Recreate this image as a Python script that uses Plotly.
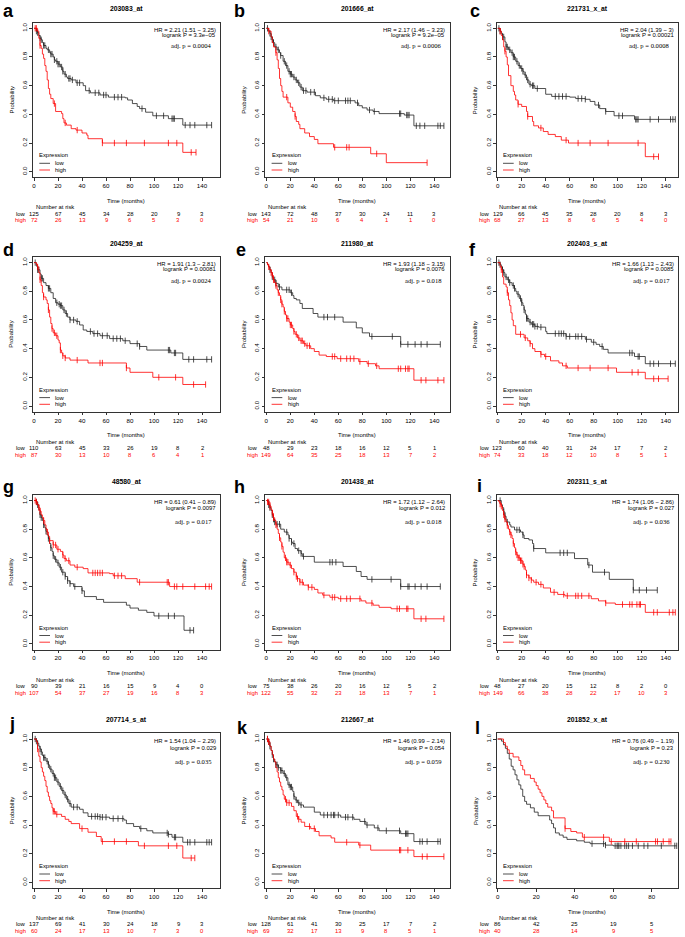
import numpy as np
import plotly.graph_objects as go

# ------------------------------------------------------------------ data
MONTHS = [0, 20, 40, 60, 80, 100, 120, 140]
MONTHS_L = [0, 20, 40, 60, 80]
Y_TICKS = [0.0, 0.2, 0.4, 0.6, 0.8, 1.0]

# panel a  203083_at
a_low_t = [0, 2, 3, 4, 5, 6, 7, 8, 10, 11, 13, 14, 16, 17, 18, 20, 22, 24, 25, 27, 28, 31, 35, 41, 43, 47, 55, 62, 76, 78, 82, 86, 88, 93, 99, 112, 124, 148]
a_low_s = [1, .98, .97, .95, .93, .92, .90, .88, .86, .85, .83, .82, .80, .78, .77, .75, .73, .70, .68, .66, .65, .64, .62, .60, .565, .55, .535, .52, .515, .50, .475, .455, .44, .415, .39, .37, .325, .325]
a_low_c = [2, 3, 5, 6, 8, 9, 12, 14, 15, 17, 19, 20, 21, 23, 24, 26, 29, 30, 32, 36, 38, 46, 51, 54, 58, 60, 67, 70, 73, 90, 102, 108, 115, 116, 117, 126, 130, 134, 144, 148]
a_high_t = [0, 3, 4, 5, 6, 7, 8, 9, 10, 11, 12, 13, 14, 16, 18, 23, 24, 25, 27, 31, 35, 40, 44, 45, 57, 124, 135]
a_high_s = [1, .98, .93, .88, .86, .82, .79, .74, .70, .64, .58, .54, .51, .475, .42, .405, .37, .34, .325, .30, .29, .27, .255, .23, .20, .135, .135]
a_high_c = [1, 2, 5, 17, 26, 36, 57, 67, 77, 92, 112, 119, 131, 135]
a_nar_low = [125, 67, 45, 34, 28, 20, 9, 3]
a_nar_high = [72, 26, 13, 9, 6, 5, 3, 0]

# panel b  201666_at
b_low_t = [0, 2, 3, 4, 5, 6, 7, 9, 11, 12, 14, 16, 18, 20, 22, 24, 26, 28, 30, 34, 41, 45, 50, 56, 74, 77, 80, 84, 89, 94, 115, 123, 148]
b_low_s = [1, .98, .965, .94, .92, .90, .87, .85, .83, .81, .77, .74, .70, .68, .66, .64, .62, .59, .565, .555, .53, .515, .505, .495, .48, .46, .445, .43, .42, .405, .395, .32, .32]
b_low_c = [1, 3, 4, 5, 6, 8, 10, 12, 15, 17, 19, 20, 21, 23, 25, 27, 29, 31, 33, 37, 40, 48, 52, 55, 57, 60, 66, 68, 70, 76, 86, 90, 111, 112, 117, 118, 119, 125, 128, 132, 143, 145, 148]
b_high_t = [0, 2, 4, 5, 6, 8, 9, 10, 11, 12, 13, 14, 18, 20, 22, 24, 25, 27, 28, 32, 36, 40, 43, 56, 87, 100, 134]
b_high_s = [1, .98, .94, .90, .87, .83, .78, .72, .65, .60, .56, .52, .48, .45, .42, .385, .35, .33, .30, .27, .245, .225, .195, .17, .125, .063, .063]
b_high_c = [2, 8, 17, 24, 57, 67, 69, 92, 134]
b_nar_low = [143, 72, 48, 37, 30, 24, 11, 3]
b_nar_high = [54, 21, 10, 6, 4, 1, 1, 0]

# panel c  221731_x_at
c_low_t = [0, 2, 3, 4, 6, 7, 9, 11, 13, 15, 17, 19, 21, 22, 24, 26, 28, 31, 40, 45, 60, 65, 73, 77, 81, 85, 90, 97, 114, 148]
c_low_s = [1, .98, .965, .94, .905, .87, .85, .83, .80, .77, .74, .72, .70, .675, .64, .61, .60, .58, .54, .525, .52, .51, .505, .49, .465, .44, .42, .39, .365, .365]
c_low_c = [1, 2, 4, 5, 7, 8, 10, 12, 13, 14, 16, 18, 20, 21, 23, 25, 27, 29, 30, 33, 48, 51, 54, 57, 67, 70, 73, 84, 90, 101, 104, 115, 116, 117, 127, 134, 144, 146, 148]
c_high_t = [0, 2, 3, 4, 5, 6, 7, 8, 9, 11, 13, 14, 15, 17, 20, 24, 25, 29, 30, 34, 38, 42, 48, 53, 59, 123, 134]
c_high_s = [1, .98, .95, .92, .87, .84, .80, .745, .67, .60, .56, .535, .50, .47, .455, .42, .385, .35, .32, .305, .28, .26, .245, .22, .20, .105, .105]
c_high_c = [2, 6, 17, 25, 36, 57, 67, 77, 92, 117, 130, 134]
c_nar_low = [129, 66, 45, 35, 28, 20, 8, 3]
c_nar_high = [68, 27, 13, 8, 6, 5, 4, 0]

# panel d  204259_at
d_low_t = [0, 2, 3, 5, 6, 8, 10, 12, 14, 16, 18, 20, 22, 24, 26, 28, 30, 35, 38, 41, 44, 49, 55, 63, 74, 80, 88, 94, 114, 124, 148]
d_low_s = [1, .975, .95, .92, .89, .86, .84, .82, .79, .75, .72, .71, .70, .67, .645, .62, .60, .59, .565, .53, .52, .505, .49, .47, .455, .435, .415, .39, .37, .325, .325]
d_low_c = [1, 3, 4, 6, 7, 12, 13, 19, 21, 22, 23, 25, 27, 30, 33, 36, 47, 50, 53, 57, 61, 66, 69, 72, 76, 86, 88, 112, 113, 117, 118, 129, 133, 144, 148]
d_high_t = [0, 2, 3, 4, 5, 6, 7, 8, 10, 11, 12, 13, 14, 15, 16, 18, 20, 21, 22, 23, 24, 26, 30, 45, 77, 80, 99, 124, 143]
d_high_s = [1, .985, .97, .93, .88, .84, .79, .76, .74, .715, .67, .62, .575, .54, .51, .49, .46, .44, .39, .37, .35, .335, .32, .30, .265, .235, .20, .15, .15]
d_high_c = [3, 5, 8, 12, 15, 17, 19, 22, 24, 26, 36, 55, 57, 77, 104, 118, 133, 143]
d_nar_low = [110, 63, 45, 33, 26, 19, 8, 2]
d_nar_high = [87, 30, 13, 10, 8, 6, 4, 1]

# panel e  211980_at
e_low_t = [0, 1, 2, 3, 4, 5, 6, 8, 10, 13, 20, 22, 23, 25, 28, 30, 39, 43, 64, 75, 80, 86, 112, 145]
e_low_s = [1, .985, .97, .95, .93, .90, .88, .855, .83, .81, .79, .77, .75, .74, .715, .68, .645, .62, .585, .545, .51, .485, .43, .43]
e_low_c = [3, 5, 7, 8, 11, 17, 19, 21, 48, 51, 57, 88, 105, 112, 118, 124, 129, 134, 145]
e_high_t = [0, 1, 2, 3, 4, 5, 6, 7, 8, 9, 10, 11, 12, 13, 14, 15, 16, 17, 19, 20, 22, 23, 24, 26, 28, 31, 33, 37, 40, 44, 50, 59, 77, 84, 91, 94, 123, 148]
e_high_s = [1, .985, .97, .95, .93, .91, .88, .86, .84, .81, .79, .77, .74, .71, .69, .66, .635, .61, .585, .565, .54, .52, .50, .475, .455, .435, .42, .40, .38, .355, .345, .33, .31, .295, .28, .26, .18, .18]
e_high_c = [2, 4, 5, 6, 8, 10, 12, 13, 15, 17, 18, 20, 21, 23, 25, 27, 29, 30, 32, 34, 36, 55, 57, 62, 67, 70, 73, 78, 85, 92, 110, 112, 116, 118, 119, 129, 133, 143, 148]
e_nar_low = [48, 29, 23, 18, 16, 12, 5, 1]
e_nar_high = [149, 64, 35, 25, 18, 13, 7, 2]

# panel f  202403_s_at
f_low_t = [0, 2, 3, 4, 5, 6, 8, 10, 12, 14, 15, 16, 18, 20, 21, 22, 23, 24, 26, 28, 31, 34, 40, 41, 57, 73, 78, 82, 85, 88, 92, 114, 123, 148]
f_low_s = [1, .985, .97, .95, .93, .90, .88, .86, .84, .82, .80, .78, .75, .72, .70, .67, .64, .61, .585, .57, .555, .55, .52, .505, .485, .465, .445, .43, .415, .395, .37, .345, .295, .295]
f_low_c = [1, 2, 4, 5, 7, 9, 10, 13, 14, 17, 19, 20, 22, 24, 25, 27, 29, 30, 31, 33, 36, 48, 51, 53, 55, 57, 60, 65, 67, 70, 74, 80, 87, 110, 112, 117, 118, 127, 130, 134, 144, 148]
f_high_t = [0, 2, 3, 4, 5, 7, 8, 9, 10, 11, 12, 13, 15, 22, 25, 27, 29, 31, 36, 39, 44, 51, 54, 58, 99, 123, 142]
f_high_s = [1, .975, .95, .90, .85, .83, .79, .74, .70, .65, .60, .56, .50, .475, .455, .435, .40, .38, .36, .345, .315, .30, .28, .265, .235, .19, .19]
f_high_c = [3, 8, 19, 23, 27, 36, 40, 57, 67, 77, 92, 112, 117, 130, 134, 142]
f_nar_low = [123, 60, 40, 31, 24, 17, 7, 2]
f_nar_high = [74, 33, 18, 12, 10, 8, 5, 1]

# panel g  48580_at
g_low_t = [0, 2, 3, 4, 5, 6, 7, 8, 9, 10, 11, 12, 13, 14, 15, 16, 17, 19, 21, 23, 26, 28, 30, 33, 40, 42, 52, 58, 77, 80, 87, 94, 100, 125, 133]
g_low_s = [1, .99, .97, .935, .90, .88, .86, .83, .81, .785, .76, .735, .70, .67, .645, .615, .59, .565, .535, .50, .47, .44, .42, .40, .37, .33, .31, .29, .27, .25, .235, .22, .195, .095, .095]
g_low_c = [2, 3, 5, 6, 8, 10, 12, 14, 16, 18, 20, 22, 24, 26, 28, 30, 34, 40, 104, 112, 117, 130, 133]
g_high_t = [0, 2, 3, 4, 5, 6, 7, 8, 9, 10, 11, 12, 13, 16, 19, 22, 24, 25, 27, 30, 34, 41, 45, 63, 66, 76, 86, 113, 148]
g_high_s = [1, .99, .97, .95, .925, .90, .88, .86, .83, .80, .78, .75, .72, .69, .66, .645, .62, .595, .58, .55, .535, .525, .495, .49, .475, .455, .43, .40, .40]
g_high_c = [1, 2, 4, 5, 8, 11, 13, 16, 18, 20, 24, 26, 29, 36, 49, 51, 53, 55, 57, 67, 70, 73, 88, 111, 112, 117, 119, 124, 134, 143, 146, 148]
g_nar_low = [90, 39, 21, 16, 15, 9, 4, 0]
g_nar_high = [107, 54, 37, 27, 19, 16, 8, 3]

# panel h  201438_at
h_low_t = [0, 2, 3, 4, 5, 6, 7, 8, 12, 15, 18, 19, 21, 22, 24, 26, 29, 30, 40, 64, 75, 79, 84, 112, 145]
h_low_s = [1, .97, .95, .93, .90, .87, .85, .835, .80, .78, .76, .735, .71, .70, .665, .65, .63, .61, .57, .54, .505, .47, .45, .40, .40]
h_low_c = [2, 3, 5, 6, 7, 9, 11, 17, 19, 21, 23, 27, 29, 31, 53, 55, 58, 88, 104, 112, 118, 119, 124, 129, 134, 145]
h_high_t = [0, 1, 3, 4, 5, 6, 7, 8, 9, 10, 11, 12, 13, 14, 15, 17, 19, 21, 23, 25, 26, 28, 31, 35, 40, 43, 47, 53, 60, 79, 83, 89, 94, 104, 123, 148]
h_high_s = [1, .99, .96, .935, .91, .88, .86, .83, .80, .77, .74, .71, .68, .64, .60, .57, .55, .525, .50, .47, .455, .43, .41, .395, .38, .355, .34, .325, .315, .30, .285, .27, .255, .245, .175, .175]
h_high_c = [1, 2, 3, 5, 6, 8, 11, 13, 16, 17, 18, 20, 23, 25, 26, 28, 30, 35, 38, 48, 55, 57, 62, 67, 70, 78, 88, 109, 111, 117, 118, 129, 133, 148]
h_nar_low = [75, 38, 26, 20, 16, 12, 5, 2]
h_nar_high = [122, 55, 32, 23, 18, 13, 7, 1]

# panel i  202311_s_at
i_low_t = [0, 3, 4, 5, 6, 7, 10, 11, 14, 19, 21, 22, 26, 29, 30, 40, 64, 75, 79, 93, 113, 133]
i_low_s = [1, .97, .95, .92, .89, .85, .83, .815, .795, .78, .76, .735, .725, .70, .665, .635, .595, .55, .50, .45, .375, .375]
i_low_c = [2, 5, 6, 8, 16, 18, 21, 30, 52, 55, 58, 76, 89, 113, 118, 124, 133]
i_high_t = [0, 1, 2, 3, 4, 5, 6, 7, 8, 9, 10, 11, 12, 13, 14, 15, 16, 17, 19, 21, 22, 23, 24, 26, 28, 30, 34, 38, 44, 50, 56, 78, 84, 90, 98, 123, 148]
i_high_s = [1, .99, .975, .96, .93, .90, .87, .85, .825, .80, .78, .76, .735, .70, .67, .64, .62, .60, .58, .555, .54, .515, .48, .46, .445, .43, .415, .39, .36, .345, .335, .315, .30, .285, .275, .22, .22]
i_high_c = [2, 3, 5, 6, 8, 10, 11, 13, 15, 16, 17, 18, 19, 20, 21, 22, 24, 26, 28, 32, 36, 47, 55, 58, 65, 67, 70, 76, 90, 104, 110, 112, 116, 118, 119, 130, 133, 143, 146, 148]
i_nar_low = [48, 27, 20, 15, 12, 8, 2, 0]
i_nar_high = [149, 66, 38, 28, 22, 17, 10, 3]

# panel j  207714_s_at
j_low_t = [0, 2, 3, 4, 5, 6, 7, 8, 10, 12, 13, 15, 17, 19, 21, 23, 25, 27, 29, 31, 38, 41, 45, 55, 63, 75, 77, 83, 88, 94, 99, 112, 115, 124, 148]
j_low_s = [1, .985, .97, .95, .93, .91, .885, .87, .845, .82, .79, .76, .73, .70, .67, .64, .61, .58, .55, .525, .51, .485, .46, .455, .445, .435, .41, .39, .375, .36, .345, .335, .315, .28, .28]
j_low_c = [1, 2, 3, 5, 6, 8, 9, 11, 12, 14, 16, 17, 18, 20, 22, 24, 26, 28, 30, 33, 36, 48, 51, 53, 55, 57, 60, 66, 70, 74, 89, 111, 112, 117, 118, 128, 130, 134, 144, 146, 148]
j_high_t = [0, 2, 3, 4, 5, 6, 7, 8, 9, 10, 11, 12, 13, 14, 15, 16, 18, 23, 26, 29, 31, 38, 45, 52, 56, 87, 124, 134]
j_high_s = [1, .98, .93, .88, .84, .80, .77, .74, .71, .67, .63, .60, .57, .55, .52, .495, .475, .46, .44, .425, .41, .375, .35, .32, .285, .255, .17, .17]
j_high_c = [3, 16, 17, 19, 40, 57, 67, 77, 92, 112, 119, 131, 134]
j_nar_low = [137, 69, 41, 30, 24, 18, 9, 3]
j_nar_high = [60, 24, 17, 13, 10, 7, 3, 0]

# panel k  212667_at
k_low_t = [0, 2, 3, 4, 5, 6, 7, 8, 10, 12, 14, 16, 18, 20, 22, 23, 24, 26, 28, 31, 40, 45, 62, 73, 78, 83, 90, 94, 112, 123, 145]
k_low_s = [1, .98, .95, .92, .89, .86, .84, .82, .80, .78, .76, .73, .68, .665, .635, .60, .575, .555, .54, .525, .49, .47, .455, .44, .425, .40, .38, .36, .34, .285, .285]
k_low_c = [1, 2, 3, 5, 6, 8, 9, 10, 12, 13, 15, 17, 19, 20, 21, 23, 25, 27, 29, 48, 51, 54, 56, 57, 60, 66, 68, 72, 82, 84, 93, 100, 111, 116, 117, 118, 128, 130, 134, 143, 145]
k_high_t = [0, 2, 3, 4, 5, 6, 7, 8, 9, 10, 11, 12, 13, 14, 15, 17, 21, 23, 25, 27, 29, 32, 37, 41, 44, 54, 57, 77, 87, 123, 148]
k_high_s = [1, .98, .95, .92, .89, .86, .84, .80, .77, .73, .70, .67, .645, .61, .58, .555, .53, .50, .46, .44, .42, .39, .375, .355, .325, .31, .28, .26, .225, .18, .18]
k_high_c = [1, 2, 16, 17, 19, 26, 27, 36, 40, 67, 78, 111, 112, 118, 130, 134, 148]
k_nar_low = [128, 61, 41, 30, 25, 17, 7, 2]
k_nar_high = [69, 32, 17, 13, 9, 8, 5, 1]

# panel l  201852_x_at
l_low_t = [0, 2, 3, 4, 5, 6, 7, 8, 9, 10, 11, 12, 13, 14, 15, 17, 19, 21, 27, 28, 29, 30, 32, 34, 36, 41, 45, 48, 56, 60, 93]
l_low_s = [1, .985, .96, .935, .90, .86, .81, .785, .75, .715, .68, .65, .60, .565, .545, .52, .49, .465, .435, .41, .38, .345, .33, .315, .30, .29, .28, .27, .26, .255, .255]
l_low_c = [49, 55, 56, 61, 62, 62.5, 63, 64, 66, 67, 68, 70, 73, 76, 78, 85, 92, 93]
l_high_t = [0, 3, 4, 5, 6, 8, 11, 12, 13, 14, 17, 19, 20, 21, 22, 23, 24, 25, 26, 28, 29, 35, 38, 41, 44, 58, 90]
l_high_s = [1, .975, .95, .925, .90, .875, .85, .815, .785, .75, .725, .70, .675, .65, .625, .60, .575, .55, .525, .50, .45, .375, .355, .345, .315, .285, .285]
l_high_c = [35, 45, 55, 59, 66, 72, 82, 83, 86, 89, 90]
l_nar_low = [86, 42, 25, 19, 5]
l_nar_high = [40, 28, 14, 9, 5]

PANELS = [
    dict(letter="a", title="203083_at", hr="HR = 2.21 (1.51 − 3.25)", lr="logrank P = 3.3e−05", adj="adj. p = 0.0004",
         low=(a_low_t, a_low_s, a_low_c), high=(a_high_t, a_high_s, a_high_c), nl=a_nar_low, nh=a_nar_high, months=MONTHS),
    dict(letter="b", title="201666_at", hr="HR = 2.17 (1.46 − 3.23)", lr="logrank P = 9.2e−05", adj="adj. p = 0.0006",
         low=(b_low_t, b_low_s, b_low_c), high=(b_high_t, b_high_s, b_high_c), nl=b_nar_low, nh=b_nar_high, months=MONTHS),
    dict(letter="c", title="221731_x_at", hr="HR = 2.04 (1.39 − 3)", lr="logrank P = 0.00021", adj="adj. p = 0.0008",
         low=(c_low_t, c_low_s, c_low_c), high=(c_high_t, c_high_s, c_high_c), nl=c_nar_low, nh=c_nar_high, months=MONTHS),
    dict(letter="d", title="204259_at", hr="HR = 1.91 (1.3 − 2.81)", lr="logrank P = 0.00081", adj="adj. p = 0.0024",
         low=(d_low_t, d_low_s, d_low_c), high=(d_high_t, d_high_s, d_high_c), nl=d_nar_low, nh=d_nar_high, months=MONTHS),
    dict(letter="e", title="211980_at", hr="HR = 1.93 (1.18 − 3.15)", lr="logrank P = 0.0076", adj="adj. p = 0.018",
         low=(e_low_t, e_low_s, e_low_c), high=(e_high_t, e_high_s, e_high_c), nl=e_nar_low, nh=e_nar_high, months=MONTHS),
    dict(letter="f", title="202403_s_at", hr="HR = 1.66 (1.13 − 2.43)", lr="logrank P = 0.0085", adj="adj. p = 0.017",
         low=(f_low_t, f_low_s, f_low_c), high=(f_high_t, f_high_s, f_high_c), nl=f_nar_low, nh=f_nar_high, months=MONTHS),
    dict(letter="g", title="48580_at", hr="HR = 0.61 (0.41 − 0.89)", lr="logrank P = 0.0097", adj="adj. p = 0.017",
         low=(g_low_t, g_low_s, g_low_c), high=(g_high_t, g_high_s, g_high_c), nl=g_nar_low, nh=g_nar_high, months=MONTHS),
    dict(letter="h", title="201438_at", hr="HR = 1.72 (1.12 − 2.64)", lr="logrank P = 0.012", adj="adj. p = 0.018",
         low=(h_low_t, h_low_s, h_low_c), high=(h_high_t, h_high_s, h_high_c), nl=h_nar_low, nh=h_nar_high, months=MONTHS),
    dict(letter="i", title="202311_s_at", hr="HR = 1.74 (1.06 − 2.86)", lr="logrank P = 0.027", adj="adj. p = 0.036",
         low=(i_low_t, i_low_s, i_low_c), high=(i_high_t, i_high_s, i_high_c), nl=i_nar_low, nh=i_nar_high, months=MONTHS),
    dict(letter="j", title="207714_s_at", hr="HR = 1.54 (1.04 − 2.29)", lr="logrank P = 0.029", adj="adj. p = 0.035",
         low=(j_low_t, j_low_s, j_low_c), high=(j_high_t, j_high_s, j_high_c), nl=j_nar_low, nh=j_nar_high, months=MONTHS),
    dict(letter="k", title="212667_at", hr="HR = 1.46 (0.99 − 2.14)", lr="logrank P = 0.054", adj="adj. p = 0.059",
         low=(k_low_t, k_low_s, k_low_c), high=(k_high_t, k_high_s, k_high_c), nl=k_nar_low, nh=k_nar_high, months=MONTHS),
    dict(letter="l", title="201852_x_at", hr="HR = 0.76 (0.49 − 1.19)", lr="logrank P = 0.23", adj="adj. p = 0.230",
         low=(l_low_t, l_low_s, l_low_c), high=(l_high_t, l_high_s, l_high_c), nl=l_nar_low, nh=l_nar_high, months=MONTHS_L),
]

# ------------------------------------------------------------------ layout geometry (pixels)
W, H = 685, 937
COL_X0 = [34.0, 266.3, 497.7]          # pixel of month 0
COL_BOX_R = [220.0, 449.5, 678.0]      # right edge of plot box
ROW_Y1 = [28.3, 262.6, 500.5, 739.0]   # pixel of probability 1.0
PXP = 143.4                            # pixels per probability unit
HR_OFF = [(1.3, 6.6, 17.6), (1.7, 6.7, 17.4), (1.2, 7.8, 20.5), (2.4, 8.7, 22.4)]
LETTER_POS = {"a": (2, 15), "b": (233, 15), "c": (469, 15), "d": (2, 255.5), "e": (235, 255.5),
              "f": (468, 255), "g": (2, 492.7), "h": (233, 492.7), "i": (476, 491.7),
              "j": (8, 729), "k": (236, 733), "l": (474, 733)}
LETTER_FS = 18

LOW_C = "#222222"
HIGH_C = "#ff0000"
SANS = "Liberation Sans, Arial, sans-serif"
SERIF = "Liberation Serif, Times New Roman, serif"
FS = 5.9


def px(x):
    return x / W


def py(y):
    return 1 - y / H


fig = go.Figure()
annotations = []
shapes = []
layout_axes = {}


def txt(x, y, text, size=FS, color="black", xa="center", ya="middle", family=SANS, angle=0, pad=1):
    annotations.append(dict(x=px(x), y=py(y), xref="paper", yref="paper", text=text, showarrow=False,
                            xanchor=xa, yanchor=ya, textangle=angle, borderpad=pad,
                            font=dict(size=size, color=color, family=family)))


for idx, p in enumerate(PANELS):
    r, c = divmod(idx, 3)
    n = idx + 1
    sfx = "" if n == 1 else str(n)
    x0 = COL_X0[c]
    y1 = ROW_Y1[r]
    pxm = 1.925 if p["letter"] == "l" else 1.2
    left_m = -0.5 if p["letter"] == "l" else -1.0
    box_l = x0 + left_m * pxm
    box_r = COL_BOX_R[c]
    right_m = (box_r - x0) / pxm
    box_t = y1 - 0.04 * PXP
    box_b = y1 + 1.04 * PXP

    layout_axes["xaxis" + sfx] = dict(
        domain=[px(box_l), px(box_r)], range=[left_m, right_m], anchor="y" + sfx,
        showline=True, mirror=True, linecolor="#333", linewidth=0.8,
        ticks="outside", ticklen=2.5, tickwidth=0.8, tickcolor="#333",
        tickvals=p["months"], ticktext=[str(m) for m in p["months"]],
        tickfont=dict(size=6.2, family=SANS, color="black"),
        showgrid=False, zeroline=False, fixedrange=True)
    layout_axes["yaxis" + sfx] = dict(
        domain=[py(box_b), py(box_t)], range=[-0.04, 1.04], anchor="x" + sfx,
        showline=True, mirror=True, linecolor="#333", linewidth=0.8,
        ticks="outside", ticklen=2.5, tickwidth=0.8, tickcolor="#333",
        tickvals=Y_TICKS, ticktext=["%.1f" % v for v in Y_TICKS], tickangle=-90,
        tickfont=dict(size=6.2, family=SANS, color="black"),
        showgrid=False, zeroline=False, fixedrange=True)

    for (t, s, cens), col in ((p["low"], LOW_C), (p["high"], HIGH_C)):
        fig.add_trace(go.Scatter(x=t, y=s, mode="lines", line=dict(color=col, width=0.8, shape="hv"),
                                 xaxis="x" + sfx, yaxis="y" + sfx, showlegend=False, hoverinfo="skip"))
        ta = np.asarray(t, dtype=float)
        sa = np.asarray(s, dtype=float)
        k = np.clip(np.searchsorted(ta, np.asarray(cens, dtype=float), side="right") - 1, 0, len(sa) - 1)
        fig.add_trace(go.Scatter(x=cens, y=sa[k], mode="markers",
                                 marker=dict(symbol="line-ns", size=4.5, color=col, line=dict(color=col, width=0.8)),
                                 xaxis="x" + sfx, yaxis="y" + sfx, showlegend=False, hoverinfo="skip"))

    cx = (box_l + box_r) / 2
    # panel letter (top-anchored, baseline ~ ascent below box top)
    lx, lb = LETTER_POS[p["letter"]]
    txt(lx, max(0.0, lb - 0.905 * LETTER_FS), "<b>%s</b>" % p["letter"], size=LETTER_FS, xa="left", ya="top", pad=0)
    # title
    txt(cx, y1 - 19.3, "<b>%s</b>" % p["title"], size=6.8)
    # HR text
    o1, o2, o3 = HR_OFF[r]
    txt(box_r - 2.5, y1 + o1, p["hr"], xa="right")
    txt(box_r - 2.5, y1 + o2, p["lr"], xa="right")
    txt(box_r - 6.0, y1 + o3, p["adj"], size=6.6, xa="right", family=SERIF)
    # axis titles
    txt(x0 - 22.5, y1 + 0.5 * PXP, "Probability", angle=-90)
    txt(cx, y1 + 172.6, "Time (months)")
    # legend
    txt(x0 + 3.3, y1 + 127, "Expression", xa="left")
    for yy, col, lab in ((y1 + 135, LOW_C, "low"), (y1 + 141.7, HIGH_C, "high")):
        shapes.append(dict(type="line", xref="paper", yref="paper", x0=px(x0 + 5.3), x1=px(x0 + 16),
                           y0=py(yy), y1=py(yy), line=dict(color=col, width=0.8)))
        txt(x0 + 19.3, yy, lab, xa="left")
    # number at risk
    txt(x0 - 0.5, y1 + 179, "Number at risk", xa="left")
    txt(x0 - 6, y1 + 185.3, "low", xa="right")
    txt(x0 - 6, y1 + 192, "high", xa="right", color=HIGH_C)
    for m, vl, vh in zip(p["months"], p["nl"], p["nh"]):
        txt(x0 + m * pxm, y1 + 185.3, str(vl))
        txt(x0 + m * pxm, y1 + 192, str(vh), color=HIGH_C)

fig.update_layout(width=W, height=H, margin=dict(l=0, r=0, t=0, b=0),
                  paper_bgcolor="white", plot_bgcolor="white",
                  annotations=annotations, shapes=shapes, showlegend=False, **layout_axes)
fig.write_html("out.html", config={"displayModeBar": False},
               post_script="document.body.style.margin='0';document.body.style.overflow='hidden';")
